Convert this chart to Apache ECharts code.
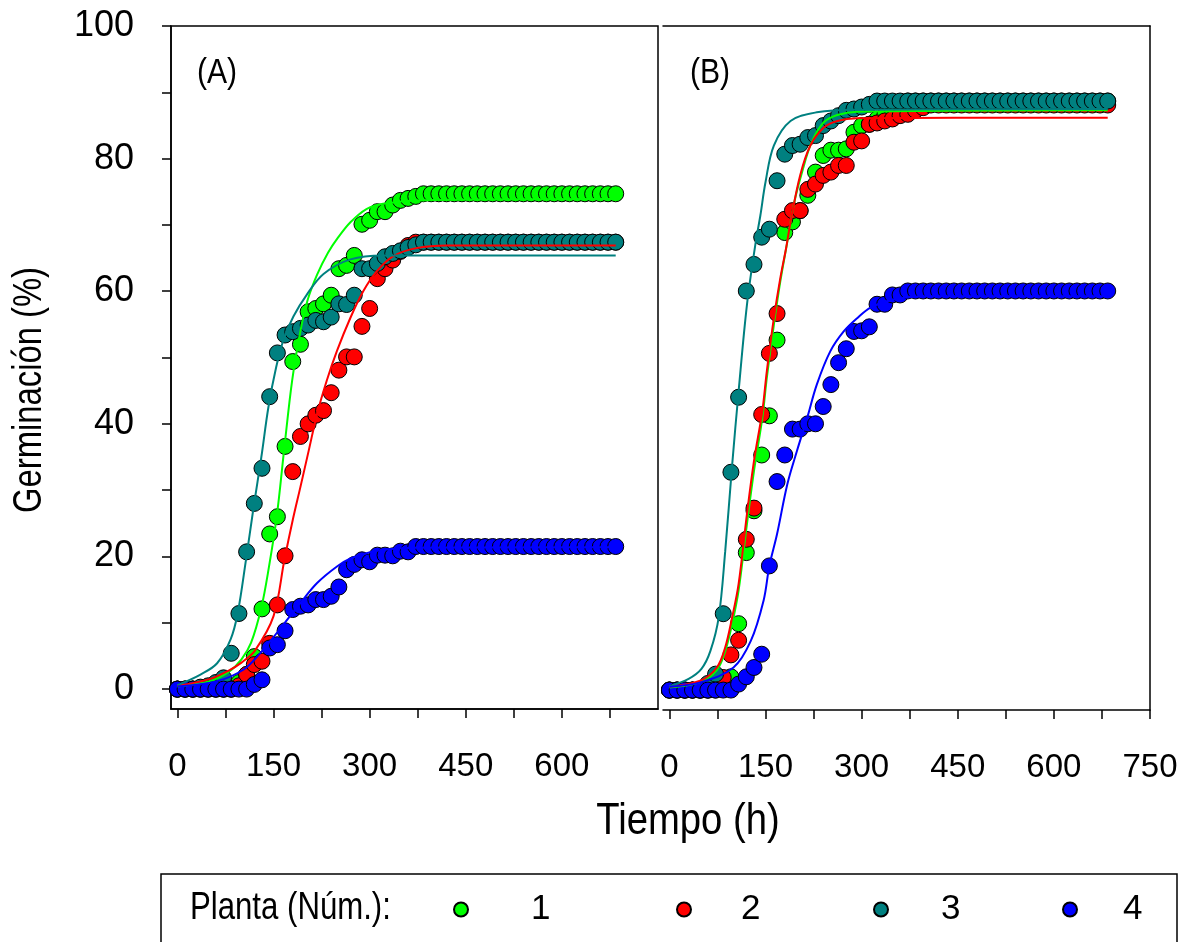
<!DOCTYPE html>
<html>
<head>
<meta charset="utf-8">
<script src="https://cdn.jsdelivr.net/npm/echarts@6/dist/echarts.min.js"></script>
<style>
  html, body { margin: 0; padding: 0; background: #fff; }
  #chart { width: 1184px; height: 942px; }
</style>
</head>
<body>
<div id="chart"></div>
<script>
// tiempo de muestreo (h)
const tiempo = [0, 12, 24, 36, 48, 60, 72, 84, 96, 108, 120, 132, 144, 156, 168, 180, 192, 204, 216, 228,
  240, 252, 264, 276, 288, 300, 312, 324, 336, 348, 360, 372, 384, 396, 408, 420, 432, 444, 456, 468,
  480, 492, 504, 516, 528, 540, 552, 564, 576, 588, 600, 612, 624, 636, 648, 660, 672, 684];

// panel (A): germinacion observada por planta
const a1 = [0, 0, 0, 0, 0, 0, 0, 0, 1.0, 2.2, 4.9, 12.1, 23.4, 26.0, 36.6, 49.4, 52.0, 56.9, 57.4, 58.1,
  59.4, 63.4, 63.9, 65.4, 70.1, 70.7, 72.0, 72.0, 73.0, 73.7, 74.0, 74.3, 74.7, 74.7, 74.7, 74.7, 74.7, 74.7, 74.7, 74.7,
  74.7, 74.7, 74.7, 74.7, 74.7, 74.7, 74.7, 74.7, 74.7, 74.7, 74.7, 74.7, 74.7, 74.7, 74.7, 74.7, 74.7, 74.7];
const a2 = [0, 0, 0, 0, 0, 0, 0, 0, 0.5, 2.2, 3.7, 4.2, 6.9, 12.7, 20.1, 32.8, 38.1, 40.0, 41.3, 42.0,
  44.7, 48.1, 50.1, 50.1, 54.7, 57.4, 61.9, 63.4, 64.7, 66.0, 66.9, 67.4, 67.4, 67.4, 67.4, 67.4, 67.4, 67.4, 67.4, 67.4,
  67.4, 67.4, 67.4, 67.4, 67.4, 67.4, 67.4, 67.4, 67.4, 67.4, 67.4, 67.4, 67.4, 67.4, 67.4, 67.4, 67.4, 67.4];
const a3 = [0, 0, 0, 0.3, 0.5, 1.0, 1.7, 5.4, 11.4, 20.7, 28.0, 33.3, 44.1, 50.7, 53.4, 53.9, 54.4, 54.9, 55.6, 55.4,
  56.1, 58.1, 58.0, 59.4, 63.4, 63.4, 64.2, 65.2, 65.7, 66.1, 66.6, 67.0, 67.4, 67.4, 67.4, 67.4, 67.4, 67.4, 67.4, 67.4,
  67.4, 67.4, 67.4, 67.4, 67.4, 67.4, 67.4, 67.4, 67.4, 67.4, 67.4, 67.4, 67.4, 67.4, 67.4, 67.4, 67.4, 67.4];
const a4 = [0, 0, 0, 0, 0, 0, 0, 0, 0, 0, 0.7, 1.4, 6.2, 6.7, 8.8, 12.0, 12.5, 12.7, 13.5, 13.5,
  14.0, 15.4, 18.0, 18.8, 19.5, 19.2, 20.2, 20.2, 20.1, 20.8, 20.7, 21.5, 21.5, 21.5, 21.5, 21.5, 21.5, 21.5, 21.5, 21.5,
  21.5, 21.5, 21.5, 21.5, 21.5, 21.5, 21.5, 21.5, 21.5, 21.5, 21.5, 21.5, 21.5, 21.5, 21.5, 21.5, 21.5, 21.5];

// panel (B)
const b1 = [0, 0, 0, 0, 0, 0, 0, 0.5, 2.0, 10.0, 20.7, 27.0, 35.4, 41.3, 52.7, 68.9, 70.5, 72.2, 74.5, 78.0,
  80.5, 81.3, 81.3, 81.5, 84.0, 85.0, 85.2, 86.0, 86.5, 87.3, 88.0, 88.7, 88.7, 88.7, 88.7, 88.7, 88.7, 88.7, 88.7, 88.7,
  88.7, 88.7, 88.7, 88.7, 88.7, 88.7, 88.7, 88.7, 88.7, 88.7, 88.7, 88.7, 88.7, 88.7, 88.7, 88.7, 88.7, 88.7];
const b2 = [0, 0, 0, 0, 0, 0, 0.5, 1.9, 5.3, 7.5, 22.7, 27.4, 41.5, 50.7, 56.7, 70.9, 72.2, 72.2, 75.4, 76.2,
  77.5, 78.0, 79.0, 79.0, 82.5, 82.7, 85.2, 85.4, 85.7, 86.0, 86.5, 86.7, 87.3, 87.7, 88.1, 88.1, 88.1, 88.1, 88.1, 88.1,
  88.1, 88.1, 88.1, 88.1, 88.1, 88.1, 88.1, 88.1, 88.1, 88.1, 88.1, 88.1, 88.1, 88.1, 88.1, 88.1, 88.1, 88.1];
const b3 = [0, 0, 0, 0, 0, 1.0, 2.4, 11.5, 32.8, 44.1, 60.1, 64.1, 68.2, 69.4, 76.7, 80.7, 82.0, 82.2, 83.2, 83.5,
  85.0, 85.7, 86.5, 87.3, 87.5, 87.8, 88.2, 88.7, 88.7, 88.7, 88.7, 88.7, 88.7, 88.7, 88.7, 88.7, 88.7, 88.7, 88.7, 88.7,
  88.7, 88.7, 88.7, 88.7, 88.7, 88.7, 88.7, 88.7, 88.7, 88.7, 88.7, 88.7, 88.7, 88.7, 88.7, 88.7, 88.7, 88.7];
const b4 = [0, 0, 0, 0, 0, 0, 0, 0, 0, 0.9, 2.0, 3.4, 5.4, 18.7, 31.4, 35.4, 39.3, 39.3, 40.1, 40.1,
  42.7, 46.0, 49.3, 51.4, 54.0, 54.1, 54.7, 58.1, 58.1, 59.5, 59.5, 60.1, 60.1, 60.1, 60.1, 60.1, 60.1, 60.1, 60.1, 60.1,
  60.1, 60.1, 60.1, 60.1, 60.1, 60.1, 60.1, 60.1, 60.1, 60.1, 60.1, 60.1, 60.1, 60.1, 60.1, 60.1, 60.1, 60.1];

// curvas ajustadas [h, %]
const ajusteA1 = [[0, 0.4], [50, 1.2], [80, 2.6], [100, 4.5], [115, 7], [131, 12.3], [143, 18.5], [155, 26], [167, 36.5],
  [179, 46.5], [192, 54], [203, 58.6], [218, 62.5], [235, 65.8], [250, 68], [270, 70.4], [295, 72.4], [321, 73.2], [373, 73.7], [684, 73.9]];
const ajusteA2 = [[0, 0.5], [50, 1.5], [80, 2.8], [100, 4.0], [121, 5.8], [150, 11], [167, 19.5], [180, 25.5], [192, 30.5],
  [205, 36], [218, 41.5], [233, 46.5], [249, 51], [270, 56], [290, 60], [311, 63], [337, 65.3], [373, 66.5], [420, 66.9], [684, 66.9]];
const ajusteA3 = [[0, 0.6], [36, 2.2], [62, 3.9], [83, 7.5], [94, 11.4], [107, 19.5], [119, 27.5], [131, 35], [142, 42.5],
  [154, 48.5], [166, 52.8], [181, 56.2], [202, 59.5], [228, 62.6], [270, 64.8], [321, 65.4], [684, 65.4]];
const ajusteA4 = [[0, 0.4], [62, 1.2], [104, 3], [130, 5.5], [143, 7], [166, 9.8], [192, 13], [218, 16], [249, 18.5],
  [270, 19.7], [295, 20.5], [321, 21], [373, 21.3], [684, 21.4]];
const ajusteB1 = [[0, 0.4], [48, 1.2], [74, 3.0], [87, 5.8], [98, 10], [108, 15], [121, 25], [132, 33], [145, 41], [152, 47],
  [163, 55], [173, 61.5], [184, 67.5], [195, 73.5], [207, 78], [222, 82.5], [241, 85.5], [262, 86.6], [293, 87.1], [684, 87.3]];
const ajusteB2 = [[0, 0.5], [48, 1.4], [74, 3.4], [87, 6.4], [98, 11], [108, 16], [121, 26.5], [132, 34.5], [145, 42], [152, 48],
  [163, 56], [173, 62], [182, 66.5], [190, 71], [204, 77.5], [220, 82], [241, 84.7], [262, 85.7], [293, 86.1], [684, 86.2]];
const ajusteB3 = [[0, 0.6], [30, 1.7], [50, 3.2], [64, 5.9], [77, 11], [87, 20.8], [98, 34], [108, 45], [121, 58], [134, 67],
  [142, 71.5], [150, 76.5], [163, 82.0], [189, 85.7], [230, 87.0], [290, 87.4], [684, 87.5]];
const ajusteB4 = [[0, 0.5], [50, 1.2], [100, 3.4], [127, 7.4], [147, 13.5], [156, 18.7], [168, 23.5], [184, 31], [199, 36],
  [215, 41], [230, 46], [251, 51], [272, 54], [293, 56], [314, 57.6], [350, 58.8], [400, 59.3], [684, 59.3]];

// ejes
const ticksXA = [0, 75, 150, 225, 300, 375, 450, 525, 600, 675];
const labelsXA = [0, 150, 300, 450, 600];
const ticksXB = [0, 75, 150, 225, 300, 375, 450, 525, 600, 675, 750];
const labelsXB = [0, 150, 300, 450, 600, 750];
const ticksY = [0, 10, 20, 30, 40, 50, 60, 70, 80, 90, 100];
const labelsY = [0, 20, 40, 60, 80, 100];

const plantas = ["1", "2", "3", "4"];
const colores = ["#00ff00", "#ff0000", "#008080", "#0000ff"];

const FONT = "'Liberation Sans', Arial, sans-serif";

const chart = echarts.init(document.getElementById("chart"), null, { renderer: "canvas" });

const lineaEje = { show: true, onZero: false, lineStyle: { color: "#000", width: 1.5 } };

function ejeX(grid, ticks, labels) {
  return {
    type: "value", gridIndex: grid, min: -10, max: 750,
    axisLine: lineaEje,
    axisTick: { show: true, inside: false, length: 9, customValues: ticks, lineStyle: { color: "#000", width: 1.5 } },
    axisLabel: { customValues: labels, color: "#000", fontFamily: FONT, fontSize: 33, margin: 41 },
    splitLine: { show: false },
  };
}

const obsA = [a1, a2, a3, a4];
const obsB = [b1, b2, b3, b4];
const ajA = [ajusteA1, ajusteA2, ajusteA3, ajusteA4];
const ajB = [ajusteB1, ajusteB2, ajusteB3, ajusteB4];

const series = [];
[obsA, obsB].forEach((obs, p) => {
  obs.forEach((vals, k) => {
    series.push({
      name: plantas[k], type: "scatter", xAxisIndex: p, yAxisIndex: p,
      symbol: "circle", symbolSize: 16, z: 2,
      itemStyle: { color: colores[k], borderColor: "#000", borderWidth: 1, opacity: 1 },
      data: tiempo.map((t, i) => [t, vals[i]]),
    });
  });
});
[ajA, ajB].forEach((aj, p) => {
  aj.forEach((pts, k) => {
    series.push({
      name: "ajuste " + plantas[k], type: "line", xAxisIndex: p, yAxisIndex: p,
      smooth: 0.35, symbol: "none", z: 3,
      lineStyle: { color: colores[k], width: 2 },
      data: pts,
    });
  });
});

// posicion del icono y separacion hasta el numero
const legendPos = [[453, 58], [676, 45], [873, 48], [1062, 41]];
const legends = plantas.map((n, k) => ({
  data: [n], left: legendPos[k][0], top: 892, padding: 0,
  icon: "circle", itemWidth: 14, itemHeight: 15, selectedMode: false,
  textStyle: { fontFamily: FONT, fontSize: 35, color: "#000", padding: [0, 0, 0, legendPos[k][1]] },
}));

const option = {
  animation: false,
  backgroundColor: "#fff",
  grid: [
    { left: 171, top: 26, width: 487, height: 683, show: true, borderColor: "#000", borderWidth: 1.5, backgroundColor: "transparent" },
    { left: 663, top: 26, width: 487, height: 684 },
  ],
  xAxis: [
    ejeX(0, ticksXA, labelsXA),
    ejeX(1, ticksXB, labelsXB),
    { type: "value", gridIndex: 1, position: "top", min: -10, max: 750, axisLine: lineaEje,
      axisTick: { show: false }, axisLabel: { show: false }, splitLine: { show: false } },
  ],
  yAxis: [
    { type: "value", gridIndex: 0, min: -3, max: 100, axisLine: lineaEje,
      axisTick: { show: true, inside: false, length: 9, customValues: ticksY, lineStyle: { color: "#000", width: 1.5 } },
      axisLabel: { customValues: labelsY, color: "#000", fontFamily: FONT, fontSize: 36, margin: 37 },
      splitLine: { show: false } },
    { type: "value", gridIndex: 1, position: "right", min: -3, max: 100, axisLine: lineaEje,
      axisTick: { show: false }, axisLabel: { show: false }, splitLine: { show: false } },
  ],
  legend: legends,
  graphic: [
    { type: "text", x: 197, y: 73, scaleX: 0.86, style: { text: "(A)", font: "35px " + FONT, fill: "#000", textVerticalAlign: "middle" } },
    { type: "text", x: 690, y: 73, scaleX: 0.86, style: { text: "(B)", font: "35px " + FONT, fill: "#000", textVerticalAlign: "middle" } },
    { type: "text", x: 688, y: 822, scaleX: 0.85,
      style: { text: "Tiempo (h)", font: "45px " + FONT, fill: "#000", textAlign: "center", textVerticalAlign: "middle" } },
    { type: "text", x: 30, y: 390, rotation: Math.PI / 2, scaleX: 0.82,
      style: { text: "Germinación (%)", font: "40px " + FONT, fill: "#000", textAlign: "center", textVerticalAlign: "middle" } },
    { type: "rect", shape: { x: 161, y: 874, width: 1016, height: 120 }, style: { fill: "none", stroke: "#000", lineWidth: 1.5 } },
    { type: "text", x: 190, y: 909, scaleX: 0.82,
      style: { text: "Planta (Núm.):", font: "38px " + FONT, fill: "#000", textVerticalAlign: "middle" } },
  ],
  series: series,
};

chart.setOption(option);
</script>
</body>
</html>
